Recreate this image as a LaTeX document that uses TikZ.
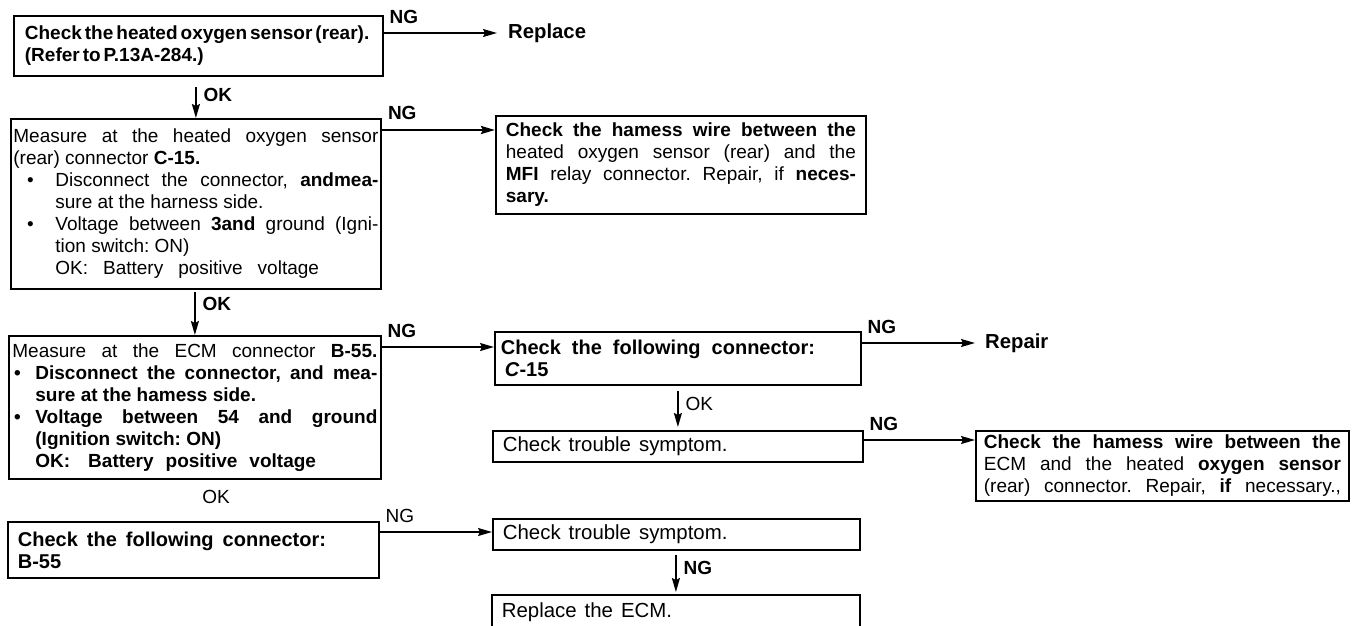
\documentclass[tikz,border=0pt]{standalone}
\usepackage{fontspec}
\setmainfont{Liberation Sans}
\usetikzlibrary{arrows.meta}
\setlength{\parindent}{0pt}
\setlength{\parskip}{0pt}
\frenchspacing
\newcommand{\fsz}[1]{\fontsize{#1}{22}\selectfont}
\newcommand{\blt}[2]{\par\hangindent=#1\hangafter=1\noindent\hbox to #1{\hskip\dimexpr #2-3.3pt\relax\textbullet\hss}}
\tikzset{
  box/.style={draw, line width=1.8pt, anchor=north west, inner ysep=2pt, align=justify, font=\fsz{19}},
  bold/.style={font=\fsz{19}\bfseries},
  ng/.style={anchor=south west, inner sep=0pt, xshift=5pt, yshift=9pt, font=\fsz{19}\bfseries},
  lbl/.style={anchor=west, inner sep=0pt, xshift=7pt, font=\fsz{19}},
  go/.style={line width=1.6pt, -{Stealth[length=14pt,width=8pt,inset=2pt]}}}

\begin{document}
\begin{tikzpicture}[x=1pt, y=-1pt]
\useasboundingbox (0,0) rectangle (1352,626);
\node[box, bold, align=left, text width=347pt, inner xsep=11pt, minimum height=60pt] (sns) at (13,15)
  {\spaceskip=3pt plus 1pt Check the heated oxygen sensor (rear).\\(Refer to P.13A-284.)};
\node[box, text width=365pt, inner xsep=2.5pt, minimum height=170pt] (rear) at (10,118)
  {\frenchspacing Measure at the heated oxygen sensor\linebreak (rear) connector \textbf{C-15.}
  \blt{42pt}{17pt}Disconnect the connector, \textbf{andmea-}\linebreak sure at the harness side.
  \blt{42pt}{17pt}Voltage between \textbf{3and} ground (Igni-\linebreak tion switch: ON)\newline
  {\spaceskip=15pt OK: Battery positive voltage}\par};
\node[box, text width=350pt, inner xsep=10pt, minimum height=98pt] (hwr) at (495,115)
  {\frenchspacing\textbf{Check the hamess wire between the}\linebreak heated oxygen sensor (rear) and the\linebreak \textbf{MFI} relay connector. Repair, if \textbf{neces-}\linebreak \textbf{sary.}\par};
\node[box, text width=365pt, inner xsep=3.5pt, minimum height=143pt] (ecm) at (8,335)
  {\hbox to\hsize{Measure at the ECM connector \textbf{B-55.}}\bfseries
  \blt{23pt}{5pt}Disconnect the connector, and mea-\linebreak sure at the hamess side.
  \blt{23pt}{5pt}Voltage between 54 and ground\linebreak (Ignition switch: ON)\newline
  {\spaceskip=12pt OK:\hspace{18pt}Battery positive voltage}\par};
\node[box, align=left, text width=354pt, inner xsep=6pt, minimum height=53pt, font=\fsz{20}\bfseries] (c15) at (494,331)
  {\spaceskip=11pt Check the following connector:\\\hspace*{4pt}\textit{C}-15};
\node[box, align=left, text width=350pt, inner xsep=10pt, minimum height=31pt, font=\fsz{20.4}] (sym) at (492,430)
  {\spaceskip=8pt Check trouble symptom.};
\node[box, text width=357pt, inner xsep=8pt, minimum height=70pt] (hwr2) at (975,430)
  {\frenchspacing\parfillskip=0pt \textbf{Check the hamess wire between the}\linebreak ECM and the heated \textbf{oxygen sensor}\linebreak (rear) connector. Repair, \textbf{if} necessary.,\par};
\node[box, align=left, text width=351pt, inner xsep=10pt, minimum height=56pt, font=\fsz{20}\bfseries] (b55) at (7,521)
  {\spaceskip=9pt Check the following connector:\\B-55};
\node[box, align=left, text width=347pt, inner xsep=10pt, minimum height=31pt, font=\fsz{20.4}] (sym2) at (492,518)
  {\spaceskip=8pt Check trouble symptom.};
\node[box, align=left, text width=348pt, inner xsep=10pt, minimum height=34pt, font=\fsz{20.4}] (rpl) at (491,594)
  {\spaceskip=8pt Replace the ECM.};

\node[anchor=west, inner xsep=11pt, font=\fsz{20.3}\bfseries] (rpc) at (497,33) {Replace};
\node[anchor=west, inner xsep=10pt, font=\fsz{20.3}\bfseries] (rpr) at (975,343) {Repair};
\node[font=\fsz{19}] (ok) at (216,497) {OK};

\coordinate (in3) at ([yshift=-15pt]hwr.north west);
\coordinate (in5) at ([yshift=-16pt]c15.north west);
\coordinate (in7) at ([yshift=-10pt]hwr2.north west);
\coordinate (in9) at ([yshift=-14pt]sym2.north west);

\draw[go] (sns.east |- rpc) node[ng] {NG} -- (rpc);
\draw[go, line width=2.4pt] (rear.east |- in3) node[ng] {NG} -- (in3);
\draw[go] (ecm.east |- in5) node[ng] {NG} -- (in5);
\draw[go] (c15.east |- rpr) node[ng] {NG} -- (rpr);
\draw[go] (sym.east |- in7) node[ng] {NG} -- (in7);
\draw[go] (b55.east |- in9) node[ng, font=\fsz{19}] {NG} -- (in9);

\draw[go, shorten <=10pt] (sns.south -| rear.north) -- node[lbl, bold, pos=0.43] {OK} (rear.north);
\draw[go, shorten <=2pt] (rear.south -| ecm.north) -- node[lbl, bold, pos=0.31] {OK} (ecm.north);
\draw[go, shorten <=5pt, shorten >=3pt] (c15.south -| sym.north) -- node[lbl, pos=0.42] {OK} (sym.north);
\draw[go, shorten <=4pt, shorten >=2pt] (sym2.south -| rpl.north) -- node[lbl, bold, pos=0.39] {NG} (rpl.north);
\end{tikzpicture}
\end{document}
